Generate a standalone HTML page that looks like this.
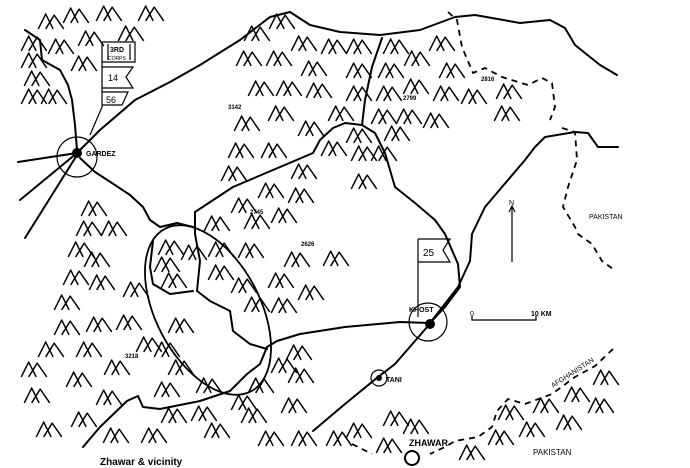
<!DOCTYPE html>
<html><head><meta charset="utf-8"><style>
html,body{margin:0;padding:0;background:#fff;}
svg{display:block;}
.l{fill:none;stroke:#000;stroke-width:2;stroke-linecap:round;stroke-linejoin:round;}
.t{fill:none;stroke:#000;stroke-width:1.2;}
.d{fill:none;stroke:#000;stroke-width:1.8;stroke-dasharray:6,5;}
text{font-family:"Liberation Sans",sans-serif;fill:#000;}
.s{font-size:7px;font-weight:bold;}
</style></head><body>
<svg width="690" height="468" viewBox="0 0 690 468" xmlns="http://www.w3.org/2000/svg">
<defs>
<symbol id="m" viewBox="0 0 26 16" width="28" height="17" overflow="visible">
<path d="M1,15 L8,1 L15,15 M8,15 L16,2 L25,15" fill="none" stroke="#000" stroke-width="1.4" stroke-linejoin="round"/>
</symbol>
</defs>
<g>
<use href="#m" x="37" y="13"/><use href="#m" x="62" y="7"/><use href="#m" x="95" y="5"/><use href="#m" x="137" y="5"/>
<use href="#m" x="117" y="25"/><use href="#m" x="20" y="35"/><use href="#m" x="20" y="52"/><use href="#m" x="47" y="38"/>
<use href="#m" x="77" y="30"/><use href="#m" x="70" y="55"/><use href="#m" x="23" y="70"/><use href="#m" x="20" y="88"/><use href="#m" x="40" y="88"/>
<use href="#m" x="243" y="25"/><use href="#m" x="268" y="13"/><use href="#m" x="290" y="35"/><use href="#m" x="320" y="38"/>
<use href="#m" x="235" y="50"/><use href="#m" x="265" y="50"/><use href="#m" x="300" y="60"/><use href="#m" x="247" y="80"/><use href="#m" x="275" y="80"/>
<use href="#m" x="305" y="82"/><use href="#m" x="267" y="105"/><use href="#m" x="233" y="115"/><use href="#m" x="297" y="120"/><use href="#m" x="327" y="105"/>
<use href="#m" x="227" y="142"/><use href="#m" x="260" y="142"/><use href="#m" x="320" y="140"/><use href="#m" x="220" y="165"/><use href="#m" x="290" y="163"/>
<use href="#m" x="257" y="182"/><use href="#m" x="287" y="187"/><use href="#m" x="230" y="197"/><use href="#m" x="270" y="207"/><use href="#m" x="243" y="213"/>
<use href="#m" x="203" y="215"/><use href="#m" x="80" y="200"/><use href="#m" x="75" y="220"/><use href="#m" x="100" y="220"/>
<use href="#m" x="345" y="38"/><use href="#m" x="382" y="38"/><use href="#m" x="428" y="35"/><use href="#m" x="403" y="50"/><use href="#m" x="345" y="62"/>
<use href="#m" x="377" y="62"/><use href="#m" x="438" y="62"/><use href="#m" x="345" y="85"/><use href="#m" x="375" y="85"/><use href="#m" x="402" y="78"/>
<use href="#m" x="432" y="85"/><use href="#m" x="460" y="88"/><use href="#m" x="495" y="83"/><use href="#m" x="370" y="108"/><use href="#m" x="395" y="108"/>
<use href="#m" x="422" y="112"/><use href="#m" x="493" y="105"/><use href="#m" x="383" y="125"/><use href="#m" x="345" y="127"/><use href="#m" x="350" y="145"/><use href="#m" x="370" y="145"/><use href="#m" x="350" y="173"/>
<use href="#m" x="67" y="241"/><use href="#m" x="83" y="251"/><use href="#m" x="62" y="269"/><use href="#m" x="88" y="274"/><use href="#m" x="122" y="281"/>
<use href="#m" x="53" y="294"/><use href="#m" x="53" y="319"/><use href="#m" x="85" y="316"/><use href="#m" x="115" y="314"/><use href="#m" x="37" y="341"/>
<use href="#m" x="75" y="341"/><use href="#m" x="20" y="361"/><use href="#m" x="65" y="371"/><use href="#m" x="103" y="359"/><use href="#m" x="135" y="336"/>
<use href="#m" x="153" y="341"/><use href="#m" x="167" y="359"/><use href="#m" x="23" y="387"/><use href="#m" x="95" y="389"/><use href="#m" x="153" y="381"/>
<use href="#m" x="35" y="421"/><use href="#m" x="70" y="411"/><use href="#m" x="102" y="427"/><use href="#m" x="140" y="427"/><use href="#m" x="160" y="407"/>
<use href="#m" x="190" y="405"/><use href="#m" x="203" y="422"/><use href="#m" x="240" y="407"/><use href="#m" x="230" y="394"/><use href="#m" x="195" y="377"/>
<use href="#m" x="247" y="377"/><use href="#m" x="270" y="357"/><use href="#m" x="285" y="344"/><use href="#m" x="287" y="367"/><use href="#m" x="280" y="397"/>
<use href="#m" x="257" y="430"/><use href="#m" x="290" y="430"/><use href="#m" x="325" y="430"/>
<use href="#m" x="157" y="239"/><use href="#m" x="180" y="244"/><use href="#m" x="207" y="241"/><use href="#m" x="237" y="242"/><use href="#m" x="153" y="256"/>
<use href="#m" x="160" y="272"/><use href="#m" x="207" y="264"/><use href="#m" x="230" y="277"/><use href="#m" x="243" y="296"/><use href="#m" x="270" y="297"/>
<use href="#m" x="267" y="272"/><use href="#m" x="297" y="284"/><use href="#m" x="283" y="251"/><use href="#m" x="322" y="250"/><use href="#m" x="167" y="317"/>
<use href="#m" x="345" y="422"/><use href="#m" x="375" y="437"/><use href="#m" x="458" y="444"/><use href="#m" x="487" y="429"/><use href="#m" x="497" y="404"/>
<use href="#m" x="518" y="421"/><use href="#m" x="532" y="397"/><use href="#m" x="555" y="414"/><use href="#m" x="563" y="386"/><use href="#m" x="587" y="397"/><use href="#m" x="592" y="369"/>
<use href="#m" x="382" y="410"/><use href="#m" x="402" y="418"/>
</g>
<path class="l" d="M77,153 L100,130 L135,100 L170,82 L200,65 L240,40 L270,17 L290,12 L310,25 L340,32 L380,35 L420,30 L455,17 L475,15 L520,23 L550,20 L565,28 L575,45 L600,65 L617,75"/>
<path class="l" d="M18,162 L77,153 M20,200 L77,153 M25,238 L77,155"/>
<path class="l" d="M25,30 L40,40 L42,60 L60,70 L68,85 L72,100 L75,125 L77,150"/>
<path class="l" d="M80,158 L95,172 L115,185 L130,195 L143,207 L150,220 L160,227 L177,223 L193,227"/>
<path class="l" d="M195,212 L233,187 L273,170 L313,153 L320,140 L333,128 L345,123 L362,125 L375,133 L385,153 L395,187 L415,203 L435,220 L445,234 L458,264 L460,287 L445,307 L430,323"/>
<path class="l" d="M195,212 L195,234 L200,261 L197,291 L210,301 L230,311 L233,331 L250,344 L267,349"/>
<path class="l" d="M153,241 L150,267 L153,284 L170,294 L193,291"/>
<path class="l" d="M430,323 L400,322 L345,327 L300,334 L277,341 L267,347 L260,364 L247,374 L230,391 L200,401 L160,409 L143,407 L138,396 L127,401 L100,427 L83,447"/>
<path class="l" d="M382,38 L372,67 L365,100 L362,125"/>
<path class="l" d="M472,234 L485,207 L502,187 L525,160 L535,147 L545,137 L575,132 L588,133 L598,147 L618,147"/>
<path class="l" d="M472,234 L470,261 L458,287 L430,323"/>
<path class="l" d="M428,326 L395,364 L378,377 L345,404 L313,431"/>
<ellipse class="l" cx="208" cy="310" rx="52" ry="92" transform="rotate(-28 208 310)" style="stroke-width:1.8"/>
<path class="d" d="M448,12 L457,20 L462,47 L473,73 L485,68 L502,77 L518,82 L528,85 L542,78 L552,83 L555,107 L550,120"/>
<path class="d" d="M562,128 L575,132 L577,160 L568,187 L563,207 L575,227 L578,234 L592,244 L602,261 L613,269"/>
<path class="d" d="M613,349 L595,366 L575,377 L552,394 L525,404 L508,399 L497,411 L492,427 L478,437 L455,441 L445,447 L430,454"/>
<path class="d" d="M352,444 L372,454"/>
<circle class="t" cx="77" cy="157" r="20"/><circle cx="77" cy="153" r="5"/>
<circle class="t" cx="428" cy="322" r="19"/><circle cx="430" cy="324" r="5"/>
<circle class="t" cx="379" cy="378" r="8"/><circle cx="379" cy="378" r="3"/>
<circle class="l" cx="412" cy="458" r="7"/>
<path class="t" d="M102,42 L102,107 L90,135 M102,42 L135,42 L135,62 L102,62 M102,67 L133,67 L126,77 L133,88 L102,88 M102,92 L128,92 L122,105 L102,105"/>
<path class="t" d="M108,44 L108,60 M130,44 L130,60"/>
<path class="t" d="M418,239 L418,317 M418,239 L450,239 L443,250 L450,262 L418,262"/>
<path class="t" d="M512,262 L512,206 M509,212 L512,206 L515,212"/>
<path class="t" d="M472,316 L472,320 L536,320 L536,316"/>
<text class="s" x="110" y="52">3RD</text><text x="108" y="60" style="font-size:5px">CORPS</text>
<text x="108" y="81" style="font-size:9px">14</text><text x="106" y="103" style="font-size:9px">56</text>
<text x="423" y="256" style="font-size:10px">25</text>
<text class="s" x="86" y="156">GARDEZ</text>
<text class="s" x="409" y="312">KHOST</text>
<text class="s" x="386" y="382">TANI</text>
<text x="409" y="446" style="font-size:9px;font-weight:bold">ZHAWAR</text>
<text x="509" y="205" style="font-size:7px">N</text>
<text x="470" y="316" style="font-size:7px">0</text>
<text class="s" x="531" y="316">10 KM</text>
<text x="589" y="219" style="font-size:7px">PAKISTAN</text>
<text x="533" y="455" style="font-size:8px">PAKISTAN</text>
<text x="0" y="0" style="font-size:7px" transform="translate(553,388) rotate(-33)">AFGHANISTAN</text>
<text class="s" x="228" y="109" style="font-size:6px">3142</text>
<text class="s" x="250" y="214" style="font-size:6px">2745</text>
<text class="s" x="301" y="246" style="font-size:6px">2626</text>
<text class="s" x="125" y="358" style="font-size:6px">3218</text>
<text class="s" x="403" y="100" style="font-size:6px">2799</text>
<text class="s" x="481" y="81" style="font-size:6px">2816</text>
<text x="100" y="465" style="font-size:10px;font-weight:bold">Zhawar &amp;  vicinity</text>
</svg>
</body></html>
